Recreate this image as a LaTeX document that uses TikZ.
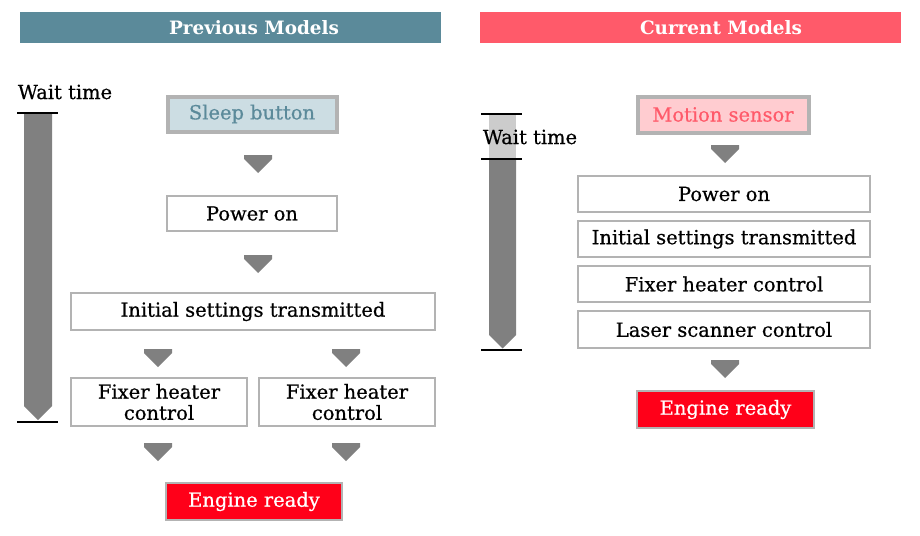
\documentclass[tikz,border=0pt]{standalone}
\usepackage{fontspec}
\setmainfont{DejaVu Serif}[FakeBold=0.6]
\newfontfamily\headfont{DejaVu Serif}
\definecolor{prevblue}{HTML}{5B8A9A}
\definecolor{sleepfill}{HTML}{CCDDE3}
\definecolor{currred}{HTML}{FF5A6A}
\definecolor{motionfill}{HTML}{FFCCD0}
\definecolor{engred}{HTML}{FF0019}
\definecolor{boxgray}{HTML}{B3B3B3}
\definecolor{arrgray}{HTML}{808080}
\definecolor{lightbar}{HTML}{CCCCCC}
\newcommand\dtri[2]{\fill[arrgray] ({#1-14},#2) -- ++(28,0) -- ++(0,4) -- ++(-14,14) -- ++(-14,-14) -- cycle;}
\begin{document}
\begin{tikzpicture}[x=0.75pt,y=-0.75pt,
  every node/.style={inner sep=0pt, font=\fontsize{14.6pt}{15.8pt}\selectfont},
  stepbox/.style={draw=boxgray, line width=1.5pt, fill=white, align=center},
  triggerbox/.style={draw=boxgray, line width=3pt, align=center},
  readybox/.style={draw=boxgray, line width=1.5pt, fill=engred, text=white},
  headtxt/.style={text=white, font=\headfont\fontsize{13.8pt}{16pt}\selectfont\bfseries},
  tick/.style={black, line width=1.5pt}]
\useasboundingbox (0,0) rectangle (920,535);
% ---------- Previous models ----------
\fill[prevblue] (20,12) rectangle (441,43);
\node[headtxt] (hprev) at (254,27.5) {Previous Models};
\node (wt1) at (65,92) {Wait time};
\fill[arrgray] (24,113) -- (52,113) -- (52,406) -- (38,420) -- (24,406) -- cycle;
\draw[tick] (17,113) -- (58,113);
\draw[tick] (17,422) -- (58,422);
\node[triggerbox, fill=sleepfill, text=prevblue, minimum width=169*0.75pt, minimum height=35*0.75pt] (sleep) at (252,114) {Sleep button};
\node[stepbox, minimum width=170*0.75pt, minimum height=35*0.75pt] (pon1) at (252,213.5) {Power on};
\node[stepbox, minimum width=364*0.75pt, minimum height=37*0.75pt] (init1) at (253,311.5) {Initial settings transmitted};
\node[stepbox, minimum width=176*0.75pt, minimum height=48*0.75pt] (fix1) at (159,402) {Fixer heater\\control};
\node[stepbox, minimum width=176*0.75pt, minimum height=48*0.75pt] (fix2) at (347,402) {Fixer heater\\control};
\node[readybox, minimum width=176*0.75pt, minimum height=37*0.75pt] (ready1) at (254,501.5) {Engine ready};
\dtri{258}{155}
\dtri{258}{255}
\dtri{158}{349}
\dtri{346}{349}
\dtri{158}{443}
\dtri{346}{443}
% ---------- Current models ----------
\fill[currred] (480,12) rectangle (901,43);
\node[headtxt] (hcurr) at (721,27.5) {Current Models};
\fill[lightbar] (489,114) rectangle (516,159);
\fill[arrgray] (489,159) -- (516,159) -- (516,335) -- (502.5,348.5) -- (489,335) -- cycle;
\draw[tick] (481,114) -- (522,114);
\draw[tick] (481,159) -- (522,159);
\draw[tick] (481,350) -- (522,350);
\node (wt2) at (530,137) {Wait time};
\node[triggerbox, fill=motionfill, text=currred, minimum width=171*0.75pt, minimum height=36*0.75pt] (motion) at (723,114.5) {Motion sensor};
\dtri{725}{145}
\node[stepbox, minimum width=292*0.75pt, minimum height=36*0.75pt] (pon2) at (724,194) {Power on};
\node[stepbox, minimum width=292*0.75pt, minimum height=36*0.75pt] (init2) at (724,239) {Initial settings transmitted};
\node[stepbox, minimum width=292*0.75pt, minimum height=36*0.75pt] (fix3) at (724,284) {Fixer heater control};
\node[stepbox, minimum width=292*0.75pt, minimum height=37*0.75pt] (laser) at (724,329.5) {Laser scanner control};
\dtri{725}{360}
\node[readybox, minimum width=177*0.75pt, minimum height=37*0.75pt] (ready2) at (725.5,409.5) {Engine ready};
\end{tikzpicture}
\end{document}
